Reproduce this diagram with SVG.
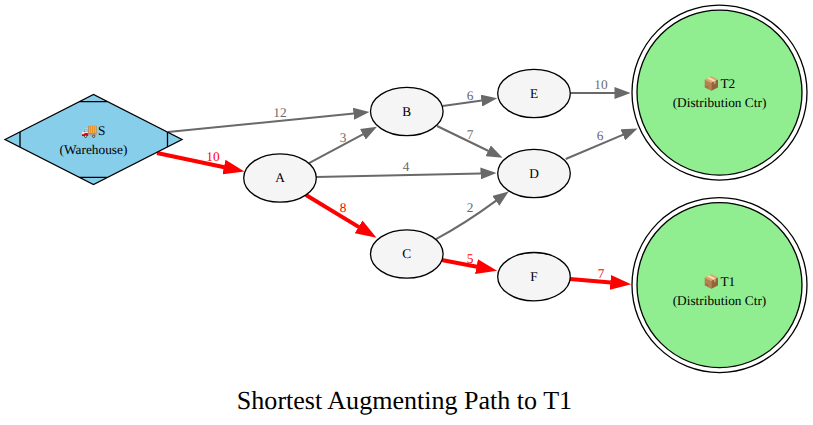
<svg xmlns="http://www.w3.org/2000/svg" width="813" height="425" viewBox="0 0 813 425">
<defs>
<marker id="g" markerUnits="userSpaceOnUse" markerWidth="16" markerHeight="12" viewBox="0 0 16 12" refX="0.5" refY="6" orient="auto"><path d="M0,0L16,6L0,12z" fill="dimgray"/></marker>
<marker id="r" markerUnits="userSpaceOnUse" markerWidth="21" markerHeight="15" viewBox="0 0 21 15" refX="0.5" refY="7.5" orient="auto"><path d="M0,0L21,7.5L0,15z" fill="red"/></marker>
</defs>
<style>
text{font-family:"Liberation Serif","Times New Roman",serif;text-anchor:middle;font-size:13.33px;fill:#000;text-rendering:geometricPrecision}
.lg{fill:dimgray}.lr{fill:red}
.eg{fill:none;stroke:dimgray;stroke-width:2;marker-end:url(#g)}
.er{fill:none;stroke:red;stroke-width:4;marker-end:url(#r)}
.n{fill:#f5f5f5;stroke:#000;stroke-width:1.3}
.o{fill:none;stroke:#000;stroke-width:1.3}
.t{fill:lightgreen;stroke:#000;stroke-width:1.3}
.s{fill:skyblue;stroke:#000;stroke-width:1.3}
</style>
<rect width="813" height="425" fill="#fff"/>
<g transform="rotate(0.002)">
<g id="connectors">
<path class="eg" d="M168,132L354,113.6"/>
<path class="er" d="M157,153L224.4,167.2"/>
<path class="eg" d="M309,163L363.300,134.100"/>
<path class="eg" d="M316,177L481,173.4"/>
<path class="er" d="M306,195L359,227.1"/>
<path class="eg" d="M442.7,106L481.9,100.5"/>
<path class="eg" d="M437,126L488.6,151"/>
<path class="eg" d="M570.3,93L615,93"/>
<path class="eg" d="M565.7,159L623.3,134.6"/>
<path class="eg" d="M436,239C455,229 478,214 496.2,200.6"/>
<path class="er" d="M441.7,260L477,266.8"/>
<path class="er" d="M570,279L610.8,282.5"/>
<text class="lg" x="280" y="117">12</text>
<text class="lr" x="213" y="161">10</text>
<text class="lg" x="343" y="142">3</text>
<text class="lg" x="406" y="171">4</text>
<text class="lr" x="343" y="212">8</text>
<text class="lg" x="470" y="100">6</text>
<text class="lg" x="470" y="139">7</text>
<text class="lg" x="470" y="212">2</text>
<text class="lr" x="470" y="263">5</text>
<text class="lg" x="601" y="89">10</text>
<text class="lg" x="600" y="140">6</text>
<text class="lr" x="601" y="278">7</text>
</g>
<g id="S">
<path class="s" d="M5,139.5L93.5,94.5L182,139.5L93.5,184.5z"/>
<path class="o" d="M20,132V147M167.5,132V147M79.500,101.700H107.500M79.500,177.300H107.500"/>
<text x="93.500" y="135">🚚S</text>
<text x="93.500" y="154">(Warehouse)</text>
</g>
<g id="A"><ellipse class="n" cx="280" cy="178" rx="36.300" ry="24.200"/><text x="280" y="182">A</text></g>
<g id="B"><ellipse class="n" cx="406.800" cy="111.500" rx="36.300" ry="24.200"/><text x="406.800" y="115.500">B</text></g>
<g id="C"><ellipse class="n" cx="406.800" cy="254" rx="36.300" ry="24.200"/><text x="406.800" y="258">C</text></g>
<g id="D"><ellipse class="n" cx="534" cy="173.500" rx="36.300" ry="24.200"/><text x="534" y="177.500">D</text></g>
<g id="E"><ellipse class="n" cx="534" cy="93.500" rx="36.300" ry="24.200"/><text x="534" y="97.500">E</text></g>
<g id="F"><ellipse class="n" cx="534" cy="276.700" rx="36.300" ry="24.200"/><text x="534" y="280.700">F</text></g>
<g id="T2"><circle class="t" cx="719.500" cy="92.500" r="82.500"/><circle class="o" cx="719.500" cy="92.500" r="87.500"/><text x="719.500" y="88">📦T2</text><text x="719.500" y="107">(Distribution Ctr)</text></g>
<g id="T1"><circle class="t" cx="719.500" cy="285" r="82.500"/><circle class="o" cx="719.500" cy="285" r="87.500"/><text x="719.500" y="286">📦T1</text><text x="719.500" y="305">(Distribution Ctr)</text></g>
<text x="404.500" y="409" style="font-size:26.060px">Shortest Augmenting Path to T1</text>
</g>
</svg>
